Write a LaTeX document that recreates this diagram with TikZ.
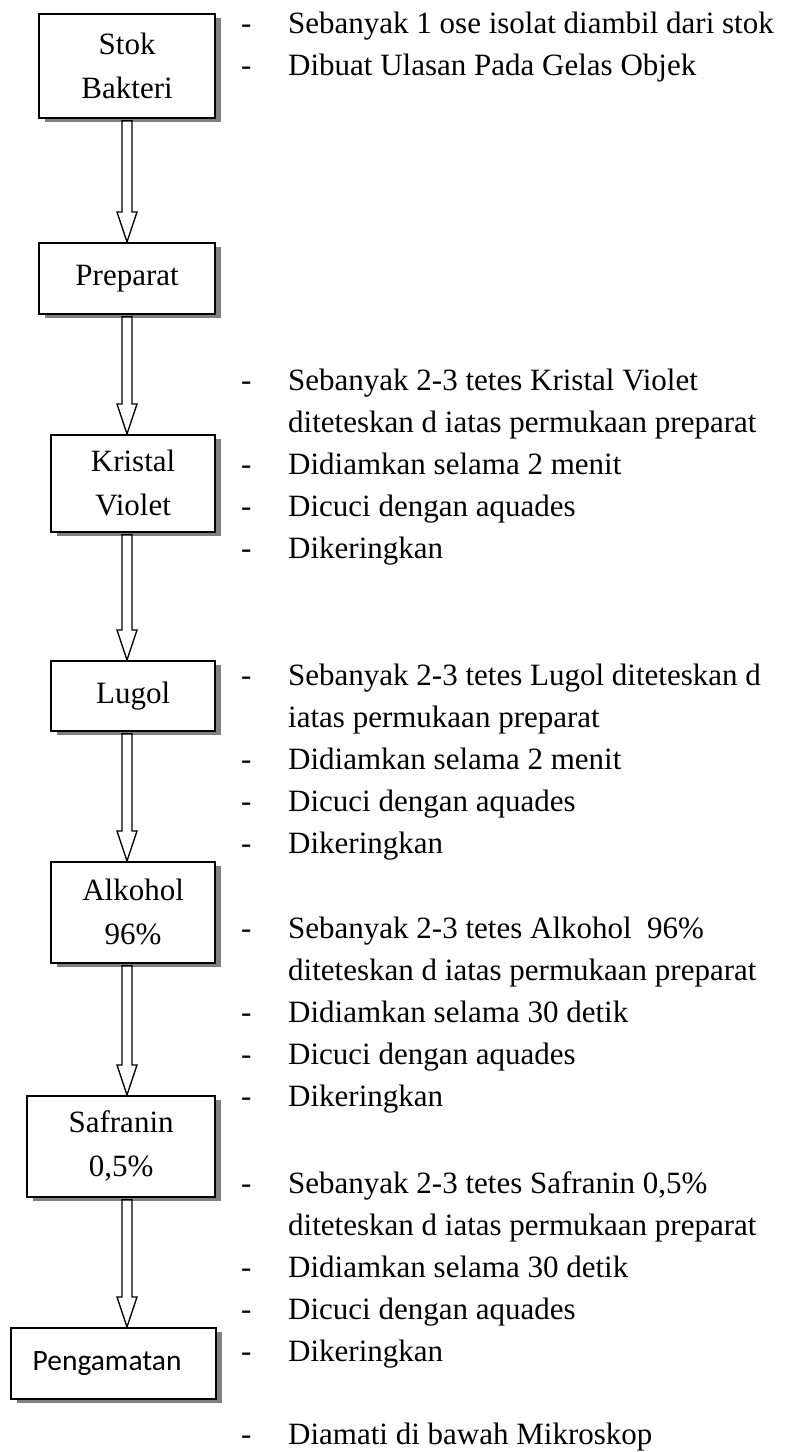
\documentclass[tikz,border=0pt]{standalone}
\usepackage{fontspec}
\setmainfont{Liberation Serif}
\newfontfamily\calibrifont{Carlito}
\usepackage{array}
\usetikzlibrary{calc,shadows}

\newcommand{\boxfont}{\fontsize{31}{44}\selectfont}
\newcommand{\notefont}{\fontsize{31}{42}\selectfont}
\newcommand{\hollowarrow}[2]{%
  \draw[line width=1.4pt, fill=white, line join=miter]
    let \p1=(#1 -| axis), \p2=(#2 -| axis) in
    (\x1-5pt,\y1-2pt) -- (\x1-5pt,\y2+30pt) -- (\x1-10pt,\y2+30pt) -- (\p2)
    -- (\x1+10pt,\y2+30pt) -- (\x1+5pt,\y2+30pt) -- (\x1+5pt,\y1-2pt) -- cycle;}

\begin{document}
\begin{tikzpicture}[x=1pt, y=-1pt,
  stage/.style={draw, line width=1.8pt, fill=white, inner sep=0pt, align=center, anchor=north east, font=\boxfont,
    drop shadow={shadow xshift=6pt, shadow yshift=-4pt, fill=black!50, opacity=1}},
  notes/.style={anchor=base west, inner sep=0pt, font=\notefont}
]
\useasboundingbox (0,0) rectangle (803,1452);
\coordinate (axis) at (127,0);

\node[stage, minimum width=176pt, minimum height=104pt] (stok) at (216,13) {Stok\\Bakteri};
\node[stage, minimum width=176pt, minimum height=71pt] (prep) at (216,242) {Preparat};
\node[stage, minimum width=164pt, minimum height=97pt] (kv) at (216,434) {Kristal\\Violet};
\node[stage, minimum width=164pt, minimum height=70pt] (lugol) at (216,660) {Lugol};
\node[stage, minimum width=164pt, minimum height=101pt] (alk) at (216,861) {Alkohol\\96\%};
\node[stage, minimum width=188pt, minimum height=101pt] (saf) at (216,1095) {Safranin\\0,5\%};
\node[stage, minimum width=205pt, minimum height=71pt, font=\calibrifont\fontsize{29.5}{40}\selectfont] (obs) at (217,1327) {Pengamatan\hspace{13pt}};

\hollowarrow{stok.south}{prep.north}
\hollowarrow{prep.south}{kv.north}
\hollowarrow{kv.south}{lugol.north}
\hollowarrow{lugol.south}{alk.north}
\hollowarrow{alk.south}{saf.north}
\hollowarrow{saf.south}{obs.north}

\node[notes] (stoknotes) at (241,33) {\begin{tabular}[t]{@{}p{47pt}@{}l@{}}
- & Sebanyak 1 ose isolat diambil dari stok\\
- & Dibuat Ulasan Pada Gelas Objek
\end{tabular}};
\node[notes] (kvnotes) at (241,390) {\begin{tabular}[t]{@{}p{47pt}@{}l@{}}
- & Sebanyak 2-3 tetes Kristal Violet\\
  & diteteskan d iatas permukaan preparat\\
- & Didiamkan selama 2 menit\\
- & Dicuci dengan aquades\\
- & Dikeringkan
\end{tabular}};
\node[notes] (lugolnotes) at (241,685) {\begin{tabular}[t]{@{}p{47pt}@{}l@{}}
- & Sebanyak 2-3 tetes Lugol diteteskan d\\
  & iatas permukaan preparat\\
- & Didiamkan selama 2 menit\\
- & Dicuci dengan aquades\\
- & Dikeringkan
\end{tabular}};
\node[notes] (alknotes) at (241,938) {\begin{tabular}[t]{@{}p{47pt}@{}l@{}}
- & Sebanyak 2-3 tetes Alkohol~ 96\%\\
  & diteteskan d iatas permukaan preparat\\
- & Didiamkan selama 30 detik\\
- & Dicuci dengan aquades\\
- & Dikeringkan
\end{tabular}};
\node[notes] (safnotes) at (241,1193) {\begin{tabular}[t]{@{}p{47pt}@{}l@{}}
- & Sebanyak 2-3 tetes Safranin 0,5\%\\
  & diteteskan d iatas permukaan preparat\\
- & Didiamkan selama 30 detik\\
- & Dicuci dengan aquades\\
- & Dikeringkan
\end{tabular}};
\node[notes] (obsnotes) at (241,1444) {\begin{tabular}[t]{@{}p{47pt}@{}l@{}}
- & Diamati di bawah Mikroskop
\end{tabular}};
\end{tikzpicture}
\end{document}
